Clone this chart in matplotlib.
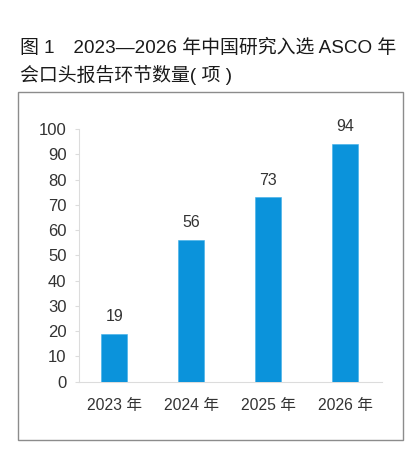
import matplotlib
matplotlib.use("Agg")
import matplotlib.pyplot as plt
from matplotlib.patches import Rectangle

categories = ["2023 年", "2024 年", "2025 年", "2026 年"]
values = [19, 56, 73, 94]
yticks = [0, 10, 20, 30, 40, 50, 60, 70, 80, 90, 100]
title_line1 = "图 1　2023—2026 年中国研究入选 ASCO 年"
title_line2 = "会口头报告环节数量( 项 )"

FAM = ["Liberation Sans", "Noto Sans CJK SC", "DejaVu Sans"]
plt.rcParams["font.family"] = FAM

W, H = 412, 462
fig = plt.figure(figsize=(W / 100, H / 100), dpi=100)
fig.patch.set_facecolor("white")

# frame box
fig.patches.append(Rectangle((18 / W, 1 - 440 / H), 385 / W, 348 / H,
                             transform=fig.transFigure, fill=False,
                             edgecolor="#8c8c8c", linewidth=1.0))

# title
fig.text(20 / W, 1 - 48 / H, title_line1, fontsize=13.6, color="#1a1a1a",
         va="center", ha="left", family=FAM)
fig.text(20 / W, 1 - 75 / H, title_line2, fontsize=13.6, color="#1a1a1a",
         va="center", ha="left", family=FAM)

ax = fig.add_axes([79 / W, 1 - 381.7 / H, 303 / W, (381.7 - 129) / H])
x = list(range(len(categories)))
bars = ax.bar(x, values, width=0.33, color="#0b93db", edgecolor="#3fb0ea",
              linewidth=0.4, zorder=3)
ax.set_xlim(-0.457, 3.48)
ax.set_ylim(0, 100)
ax.set_yticks(yticks)
ax.set_xticks(x)
ax.set_xticklabels(categories)

for b, v in zip(bars, values):
    ax.annotate(str(v), (b.get_x() + b.get_width() / 2, b.get_height()),
                xytext=(0, 7), textcoords="offset points", ha="center",
                va="bottom", fontsize=11.5, color="#333333")

for s in ["top", "right"]:
    ax.spines[s].set_visible(False)
ax.spines["left"].set_color("#dcdcdc")
ax.spines["bottom"].set_color("#dcdcdc")
ax.spines["left"].set_linewidth(0.8)
ax.spines["bottom"].set_linewidth(0.8)
ax.tick_params(axis="y", colors="#dcdcdc", labelcolor="#333333", labelsize=12,
               length=3, width=0.8, pad=6)
ax.tick_params(axis="x", length=0, labelcolor="#333333", labelsize=11.3, pad=12)

fig.savefig("out.png", dpi=100, facecolor="white")
